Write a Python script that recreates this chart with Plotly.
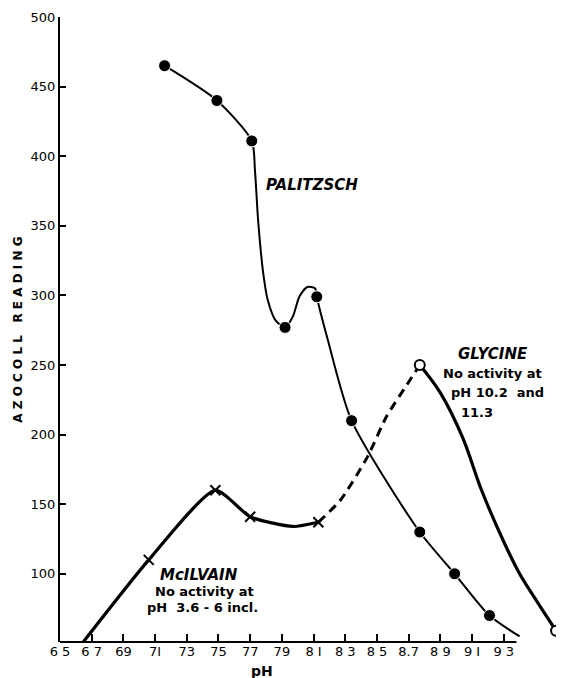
import plotly.graph_objects as go

# ---- data ----
mcilvain_ph = [6.64, 7.06, 7.48, 7.70, 8.13]
mcilvain_val = [50, 110, 160, 141, 137]
# drawn curve for McIlvain (includes dip between markers)
mcilvain_curve_ph = [6.64, 7.06, 7.48, 7.70, 7.97, 8.13]
mcilvain_curve_val = [50, 110, 160, 141, 134, 137]

# dashed link from McIlvain to Glycine
link_ph = [8.13, 8.27, 8.44, 8.56, 8.69, 8.77]
link_val = [137, 153, 184, 213, 236, 250]

glycine_ph = [8.77, 9.63]
glycine_val = [250, 59]
glycine_curve_ph = [8.77, 8.90, 9.04, 9.16, 9.30, 9.40, 9.51, 9.63]
glycine_curve_val = [250, 230, 198, 160, 123, 100, 80, 59]

palitzsch_ph = [7.16, 7.49, 7.71, 7.92, 8.12, 8.34, 8.77, 8.99, 9.21]
palitzsch_val = [465, 440, 411, 277, 299, 210, 130, 100, 70]
palitzsch_curve_ph = [7.16, 7.49, 7.71, 7.73, 7.75, 7.78, 7.81, 7.86, 7.92, 7.97, 8.01, 8.06,
                      8.11, 8.12, 8.19, 8.34, 8.77, 8.99, 9.21, 9.40]
palitzsch_curve_val = [465, 440, 411, 390, 354, 318, 297, 282, 277, 285, 299, 306,
                       305, 299, 268, 210, 130, 100, 70, 55]

x_tickvals = [6.5, 6.7, 6.9, 7.1, 7.3, 7.5, 7.7, 7.9, 8.1, 8.3, 8.5, 8.7, 8.9, 9.1, 9.3]
x_ticktext = ["6 5", "6 7", "69", "7I", "73", "75", "77", "79", "8 I",
              "8 3", "8 5", "8.7", "8 9", "9 I", "9 3"]
y_tickvals = [100, 150, 200, 250, 300, 350, 400, 450, 500]

FONT = "DejaVu Sans"
fig = go.Figure()

# curves
fig.add_trace(go.Scatter(x=palitzsch_curve_ph, y=palitzsch_curve_val, mode="lines",
                         line=dict(color="black", width=2, shape="spline", smoothing=0.7),
                         hoverinfo="skip", showlegend=False))
fig.add_trace(go.Scatter(x=mcilvain_curve_ph, y=mcilvain_curve_val, mode="lines",
                         line=dict(color="black", width=3.2, shape="spline", smoothing=0.6),
                         hoverinfo="skip", showlegend=False))
fig.add_trace(go.Scatter(x=link_ph, y=link_val, mode="lines",
                         line=dict(color="black", width=3, dash="9px,6px", shape="spline", smoothing=0.6),
                         hoverinfo="skip", showlegend=False))
fig.add_trace(go.Scatter(x=glycine_curve_ph, y=glycine_curve_val, mode="lines",
                         line=dict(color="black", width=3.2, shape="spline", smoothing=1.0),
                         hoverinfo="skip", showlegend=False))

# markers
fig.add_trace(go.Scatter(x=palitzsch_ph, y=palitzsch_val, mode="markers",
                         marker=dict(symbol="circle", size=12, color="black",
                                     line=dict(color="white", width=1)),
                         showlegend=False, cliponaxis=False))
fig.add_trace(go.Scatter(x=mcilvain_ph, y=mcilvain_val, mode="markers",
                         marker=dict(symbol="x-thin-open", size=10, color="black",
                                     line=dict(color="black", width=2)),
                         showlegend=False, cliponaxis=False))
fig.add_trace(go.Scatter(x=glycine_ph, y=glycine_val, mode="markers",
                         marker=dict(symbol="circle", size=10, color="white",
                                     line=dict(color="black", width=2)),
                         showlegend=False, cliponaxis=False))

# x axis line (shorter than plot area)
fig.add_shape(type="line", xref="x", yref="paper", x0=6.5, x1=9.38, y0=0, y1=0,
              line=dict(color="black", width=2))

ann_font = dict(family=FONT, size=13, color="black")
big_font = dict(family=FONT, size=15, color="black")
annotations = [
    dict(x=8.09, y=379, text="<b><i>PALITZSCH</i></b>", font=big_font),
    dict(x=9.23, y=258, text="<b><i>GLYCINE</i></b>", font=big_font),
    dict(x=9.23, y=244, text="<b>No activity at</b>", font=ann_font),
    dict(x=9.26, y=230, text="<b>pH 10.2  and</b>", font=ann_font),
    dict(x=9.13, y=216, text="<b>11.3</b>", font=ann_font),
    dict(x=7.38, y=99, text="<b><i>McILVAIN</i></b>", font=big_font),
    dict(x=7.41, y=87, text="<b>No activity at</b>", font=ann_font),
    dict(x=7.40, y=75.5, text="<b>pH  3.6 - 6 incl.</b>", font=ann_font),
    dict(xref="paper", yref="paper", x=-0.085, y=0.50, text="<b>A Z O C O L L   R E A D I N G</b>",
         textangle=-90, font=dict(family=FONT, size=12, color="black")),
    dict(xref="paper", yref="paper", x=0.40, y=-0.046, text="<b>pH</b>",
         font=dict(family=FONT, size=14, color="black")),
]
for a in annotations:
    a.setdefault("showarrow", False)
    a.setdefault("xanchor", "center")
    a.setdefault("yanchor", "middle")
    fig.add_annotation(**a)

# the page body adds an 8px offset, so the figure is 8px smaller and margins compensate
fig.update_layout(
    template="none",
    width=556, height=670,
    margin=dict(l=52, r=0, t=9, b=36),
    paper_bgcolor="white", plot_bgcolor="white",
    font=dict(family=FONT, color="black"),
    xaxis=dict(range=[6.5, 9.68], tickvals=x_tickvals, ticktext=x_ticktext,
               automargin=False,
               ticks="inside", ticklen=8, tickwidth=1.5, tickcolor="black",
               showline=False, showgrid=False, zeroline=False,
               tickfont=dict(family=FONT, size=13, color="black")),
    yaxis=dict(range=[51, 500], tickvals=y_tickvals, automargin=False,
               ticks="inside", ticklen=6, tickwidth=1.5, tickcolor="black",
               showline=True, linecolor="black", linewidth=2,
               showgrid=False, zeroline=False,
               tickfont=dict(family=FONT, size=13, color="black")),
)

fig.write_html("out.html")
